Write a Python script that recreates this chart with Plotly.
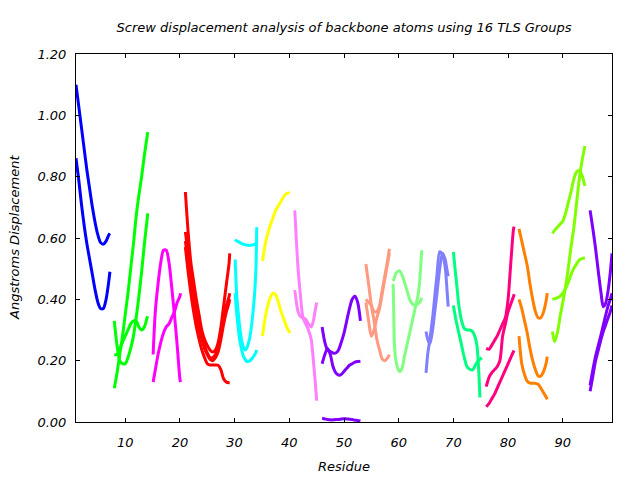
import plotly.graph_objects as go

# ---------------- data ----------------
blue_x = [1, 1.5, 2, 2.5, 3, 3.5, 4, 4.5, 5, 5.5, 6, 6.5, 7, 7.2]
blue_a = [1.10, 1.03, 0.96, 0.89, 0.82, 0.76, 0.70, 0.65, 0.61, 0.585, 0.58, 0.59, 0.61, 0.615]
blue_b = [0.86, 0.79, 0.71, 0.64, 0.58, 0.53, 0.48, 0.43, 0.39, 0.37, 0.37, 0.40, 0.46, 0.49]

green_x = [8, 8.5, 9, 9.5, 10, 10.5, 11, 11.5, 12, 12.5, 13, 13.5, 14, 14.1]
green_a = [0.11, 0.16, 0.22, 0.28, 0.35, 0.42, 0.50, 0.58, 0.67, 0.74, 0.80, 0.87, 0.93, 0.945]
green_b = [0.33, 0.25, 0.20, 0.19, 0.19, 0.21, 0.24, 0.28, 0.34, 0.41, 0.49, 0.58, 0.66, 0.68]
green_c = [0.22, 0.22, 0.24, 0.26, 0.28, 0.30, 0.32, 0.33, 0.33, 0.31, 0.30, 0.31, 0.34, 0.345]

magenta_x = [15.1, 15.5, 16, 16.5, 17, 17.5, 18, 18.5, 19, 19.5, 20, 20.1]
magenta_a = [0.22, 0.36, 0.45, 0.52, 0.56, 0.56, 0.52, 0.44, 0.35, 0.25, 0.14, 0.13]
magenta_b = [0.13, 0.17, 0.22, 0.26, 0.29, 0.31, 0.32, 0.34, 0.36, 0.39, 0.41, 0.42]

red_x = [21, 21.5, 22, 22.5, 23, 23.5, 24, 24.5, 25, 25.5, 26, 26.5, 27, 27.5, 28, 28.5, 29, 29.1]
red_a = [0.75, 0.62, 0.52, 0.46, 0.40, 0.35, 0.30, 0.27, 0.25, 0.235, 0.228, 0.235, 0.26, 0.31, 0.38, 0.45, 0.52, 0.55]
red_b = [0.62, 0.55, 0.48, 0.42, 0.37, 0.32, 0.28, 0.25, 0.225, 0.21, 0.21, 0.22, 0.25, 0.29, 0.34, 0.38, 0.41, 0.42]
red_c = [0.59, 0.52, 0.45, 0.39, 0.34, 0.30, 0.27, 0.24, 0.22, 0.205, 0.20, 0.21, 0.23, 0.27, 0.32, 0.36, 0.39, 0.40]
red_d = [0.57, 0.49, 0.42, 0.36, 0.31, 0.27, 0.235, 0.21, 0.19, 0.186, 0.186, 0.186, 0.185, 0.17, 0.14, 0.13, 0.128, 0.128]

cyan_x = [30.1, 30.4, 30.7, 31, 31.3, 31.6, 31.9, 32.2, 32.5, 32.8, 33.1, 33.4, 33.7, 33.9, 34.05]
cyan_a = [0.595, 0.59, 0.588, 0.585, 0.582, 0.58, 0.578, 0.577, 0.576, 0.576, 0.577, 0.578, 0.58, 0.582, 0.585]
cyan_b = [0.53, 0.41, 0.35, 0.30, 0.265, 0.245, 0.235, 0.24, 0.255, 0.278, 0.315, 0.365, 0.43, 0.50, 0.635]
cyan_c = [0.42, 0.35, 0.30, 0.26, 0.235, 0.215, 0.205, 0.197, 0.198, 0.20, 0.205, 0.212, 0.22, 0.228, 0.235]

yellow_x = [35.1, 35.5, 36, 36.5, 37, 37.5, 38, 38.5, 39, 39.5, 40.1]
yellow_a = [0.525, 0.57, 0.61, 0.64, 0.665, 0.69, 0.705, 0.72, 0.735, 0.745, 0.748]
yellow_b = [0.28, 0.33, 0.375, 0.405, 0.42, 0.415, 0.39, 0.36, 0.335, 0.31, 0.29]

pink_x = [41, 41.3, 41.6, 42, 42.5, 43, 43.5, 44, 44.4, 44.7, 45]
pink_a = [0.69, 0.59, 0.50, 0.42, 0.34, 0.32, 0.30, 0.27, 0.20, 0.14, 0.07]
pink_b = [0.43, 0.39, 0.36, 0.345, 0.34, 0.335, 0.32, 0.31, 0.33, 0.36, 0.39]

purple_x = [46, 46.5, 47, 47.5, 48, 48.5, 49, 49.5, 50, 50.5, 51, 51.5, 52, 52.5, 53]
purple_a = [0.31, 0.26, 0.235, 0.23, 0.225, 0.225, 0.235, 0.26, 0.29, 0.33, 0.37, 0.40, 0.41, 0.39, 0.33]
purple_b = [0.19, 0.22, 0.24, 0.22, 0.18, 0.16, 0.153, 0.155, 0.165, 0.175, 0.185, 0.19, 0.195, 0.197, 0.198]
purple_c = [0.012, 0.01, 0.008, 0.007, 0.007, 0.008, 0.008, 0.01, 0.011, 0.01, 0.009, 0.008, 0.006, 0.005, 0.003]

salmon_x = [54, 54.5, 55, 55.5, 56, 56.5, 57, 57.5, 58, 58.3]
salmon_a = [0.515, 0.45, 0.38, 0.33, 0.27, 0.235, 0.205, 0.20, 0.21, 0.22]
salmon_b = [0.40, 0.39, 0.38, 0.36, 0.36, 0.38, 0.43, 0.48, 0.53, 0.565]
salmon_c = [0.39, 0.33, 0.28, 0.30, 0.34, 0.37, 0.42, 0.47, 0.52, 0.55]

lgreen_x = [59, 59.1, 59.2, 59.5, 60, 60.3, 60.7, 61, 61.5, 62, 62.5, 63, 63.5, 63.8, 64, 64.2]
lgreen_a = [0.46, 0.465, 0.47, 0.485, 0.493, 0.49, 0.475, 0.46, 0.43, 0.40, 0.385, 0.38, 0.385, 0.39, 0.395, 0.405]
lgreen_b = [0.45, 0.35, 0.26, 0.20, 0.168, 0.165, 0.18, 0.21, 0.25, 0.29, 0.33, 0.37, 0.41, 0.45, 0.50, 0.56]

lavender_x = [65, 65.3, 65.7, 66.2, 66.6, 67, 67.5, 68, 68.5, 68.8, 69.05]
lavender_a = [0.16, 0.22, 0.27, 0.34, 0.41, 0.48, 0.555, 0.545, 0.505, 0.44, 0.376]
lavender_b = [0.295, 0.27, 0.255, 0.30, 0.36, 0.42, 0.50, 0.55, 0.53, 0.50, 0.475]

spring_x1 = [70, 70.3, 70.6, 71, 71.5, 72, 72.5, 73, 73.5, 74, 74.3, 74.6, 74.85]
spring_a = [0.555, 0.50, 0.45, 0.38, 0.33, 0.305, 0.30, 0.30, 0.295, 0.275, 0.25, 0.18, 0.08]
spring_x2 = [70, 70.5, 71, 71.5, 72, 72.5, 73, 73.5, 74, 74.5, 74.9, 75.2]
spring_b = [0.38, 0.33, 0.29, 0.25, 0.21, 0.18, 0.172, 0.17, 0.185, 0.20, 0.205, 0.21]

dpink_x = [76, 76.5, 77, 77.5, 78, 78.5, 79, 79.5, 80, 80.5, 81, 81.1]
dpink_a = [0.24, 0.237, 0.25, 0.265, 0.28, 0.30, 0.32, 0.34, 0.40, 0.52, 0.63, 0.637]
dpink_b = [0.115, 0.145, 0.16, 0.17, 0.18, 0.20, 0.28, 0.32, 0.36, 0.385, 0.41, 0.417]
dpink_c = [0.05, 0.06, 0.075, 0.09, 0.11, 0.13, 0.15, 0.17, 0.19, 0.21, 0.23, 0.233]

orange_x = [82, 82.5, 83, 83.5, 84, 84.5, 85, 85.5, 86, 86.5, 87, 87.15]
orange_a = [0.63, 0.59, 0.55, 0.51, 0.45, 0.40, 0.36, 0.34, 0.34, 0.36, 0.40, 0.42]
orange_b = [0.40, 0.37, 0.33, 0.29, 0.24, 0.20, 0.17, 0.15, 0.15, 0.165, 0.195, 0.213]
orange_c = [0.28, 0.19, 0.155, 0.133, 0.127, 0.126, 0.126, 0.123, 0.11, 0.095, 0.08, 0.074]

chart_x = [88.1, 88.5, 89, 89.5, 90, 90.5, 91, 91.5, 92, 92.5, 93, 93.5, 94.05]
chart_a = [0.615, 0.625, 0.635, 0.645, 0.655, 0.68, 0.715, 0.75, 0.79, 0.815, 0.82, 0.805, 0.77]
chart_b = [0.295, 0.262, 0.29, 0.343, 0.39, 0.44, 0.50, 0.57, 0.63, 0.71, 0.79, 0.85, 0.90]
chart_c = [0.40, 0.402, 0.405, 0.41, 0.42, 0.435, 0.455, 0.48, 0.50, 0.515, 0.528, 0.533, 0.535]

violet_x = [95, 95.5, 96, 96.5, 97, 97.4, 97.8, 98.3, 98.7, 99]
violet_a = [0.69, 0.63, 0.565, 0.49, 0.42, 0.376, 0.385, 0.43, 0.49, 0.55]
violet_b = [0.10, 0.15, 0.20, 0.235, 0.27, 0.295, 0.315, 0.34, 0.36, 0.38]
violet_c = [0.12, 0.17, 0.215, 0.25, 0.285, 0.315, 0.345, 0.38, 0.40, 0.42]

x_ticks = [10, 20, 30, 40, 50, 60, 70, 80, 90]
y_ticks = [0.0, 0.2, 0.4, 0.6, 0.8, 1.0, 1.2]

title_text = "Screw displacement analysis of backbone atoms using 16 TLS Groups"
x_title = "Residue"
y_title = "Angstroms Displacement"

# ---------------- figure ----------------
curves = [
    ("#0000ff", blue_x, [blue_a, blue_b]),
    ("#00ff00", green_x, [green_a, green_b, green_c]),
    ("#ff00ff", magenta_x, [magenta_a, magenta_b]),
    ("#ff0000", red_x, [red_a, red_b, red_c, red_d]),
    ("#00ffff", cyan_x, [cyan_a, cyan_b, cyan_c]),
    ("#ffff00", yellow_x, [yellow_a, yellow_b]),
    ("#ff80ff", pink_x, [pink_a, pink_b]),
    ("#8000ff", purple_x, [purple_a, purple_b, purple_c]),
    ("#ff9980", salmon_x, [salmon_a, salmon_b, salmon_c]),
    ("#80ff80", lgreen_x, [lgreen_a, lgreen_b]),
    ("#8080ff", lavender_x, [lavender_a, lavender_b]),
    ("#00ff80", spring_x1, [spring_a]),
    ("#00ff80", spring_x2, [spring_b]),
    ("#ff0080", dpink_x, [dpink_a, dpink_b, dpink_c]),
    ("#ff8000", orange_x, [orange_a, orange_b, orange_c]),
    ("#80ff00", chart_x, [chart_a, chart_b, chart_c]),
    ("#8000ff", violet_x, [violet_a, violet_b, violet_c]),
]

fig = go.Figure()
for color, xs, ys_list in curves:
    for ys in ys_list:
        fig.add_trace(go.Scatter(
            x=xs, y=ys, mode="lines",
            line=dict(color=color, width=3, shape="spline", smoothing=0.8),
            showlegend=False, hoverinfo="skip",
        ))

FONT = "DejaVu Sans"
FS = 13
fig.update_layout(
    width=640, height=480,
    margin=dict(l=76, r=28, t=54, b=58),
    paper_bgcolor="white", plot_bgcolor="white",
    font=dict(family=FONT, size=FS, color="black", style="italic"),
    title=dict(text=title_text, x=0.5, xref="paper", y=1 - 27 / 480,
               yref="container", yanchor="middle", xanchor="center",
               font=dict(family=FONT, size=FS, style="italic", color="black")),
    showlegend=False,
)
fig.update_xaxes(
    range=[1, 99], tickvals=x_ticks, ticktext=[str(v) for v in x_ticks],
    ticks="inside", ticklen=4, tickcolor="black", tickwidth=1,
    showline=True, linecolor="black", linewidth=1, mirror="ticks",
    showgrid=False, zeroline=False,
    tickfont=dict(family=FONT, size=FS, style="italic", color="black"),
    ticklabelstandoff=8,
)
fig.update_yaxes(
    range=[0, 1.2], tickvals=y_ticks, ticktext=["%.2f" % v for v in y_ticks],
    ticks="inside", ticklen=4, tickcolor="black", tickwidth=1,
    showline=True, linecolor="black", linewidth=1, mirror="ticks",
    showgrid=False, zeroline=False,
    tickfont=dict(family=FONT, size=FS, style="italic", color="black"),
    ticklabelstandoff=6,
)
fig.add_annotation(text=x_title, xref="paper", yref="paper", x=0.5,
                   y=-(466 - 422) / 368, yanchor="middle", xanchor="center",
                   showarrow=False,
                   font=dict(family=FONT, size=FS, style="italic", color="black"))
fig.add_annotation(text=y_title, xref="paper", yref="paper", x=(14 - 76) / 536,
                   y=0.5, yanchor="middle", xanchor="center", textangle=-90,
                   showarrow=False,
                   font=dict(family=FONT, size=FS, style="italic", color="black"))

fig.write_html("out.html")
